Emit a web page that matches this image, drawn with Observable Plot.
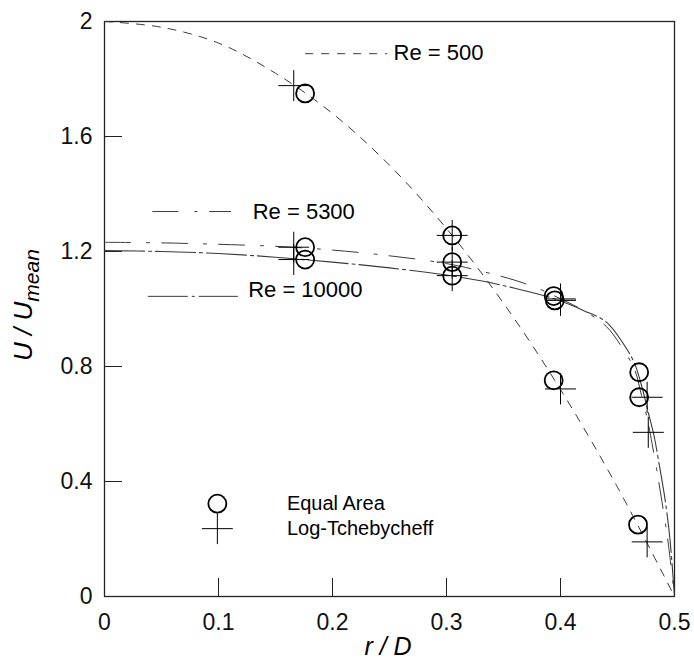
<!DOCTYPE html>
<html>
<head>
<meta charset="utf-8">
<script src="https://cdn.jsdelivr.net/npm/d3@7"></script>
<script src="https://cdn.jsdelivr.net/npm/@observablehq/plot@0.6"></script>
<style>
  html, body { margin: 0; padding: 0; background: #fff; }
  #chart svg { display: block; }
</style>
</head>
<body>
<div id="chart"></div>
<script>
// Tick values
const xTicks = [0, 0.1, 0.2, 0.3, 0.4, 0.5];
const yTicks = [0, 0.4, 0.8, 1.2, 1.6, 2];

// Profile curves
const curve500 = [
  {x: 0, y: 2.0}, {x: 0.05, y: 1.98}, {x: 0.1, y: 1.925}, {x: 0.15, y: 1.82},
  {x: 0.2, y: 1.68}, {x: 0.25, y: 1.50}, {x: 0.3, y: 1.28}, {x: 0.35, y: 1.02},
  {x: 0.4, y: 0.72}, {x: 0.45, y: 0.38}, {x: 0.5, y: 0}
];
const curve5300 = [
  {x: 0, y: 1.232}, {x: 0.05, y: 1.23}, {x: 0.1, y: 1.225}, {x: 0.15, y: 1.218},
  {x: 0.2, y: 1.205}, {x: 0.25, y: 1.185}, {x: 0.3, y: 1.158}, {x: 0.33, y: 1.132},
  {x: 0.36, y: 1.10}, {x: 0.38, y: 1.072}, {x: 0.395, y: 1.045}, {x: 0.42, y: 0.995},
  {x: 0.44, y: 0.94}, {x: 0.455, y: 0.86}, {x: 0.465, y: 0.79}, {x: 0.471, y: 0.70},
  {x: 0.476, y: 0.62}, {x: 0.479, y: 0.56}, {x: 0.484, y: 0.45}, {x: 0.489, y: 0.33},
  {x: 0.494, y: 0.2}, {x: 0.5, y: 0}
];
const curve10000 = [
  {x: 0, y: 1.203}, {x: 0.05, y: 1.2}, {x: 0.1, y: 1.193}, {x: 0.15, y: 1.18},
  {x: 0.2, y: 1.163}, {x: 0.25, y: 1.143}, {x: 0.3, y: 1.118}, {x: 0.33, y: 1.098},
  {x: 0.36, y: 1.072}, {x: 0.395, y: 1.035}, {x: 0.42, y: 0.995}, {x: 0.44, y: 0.955},
  {x: 0.455, y: 0.88}, {x: 0.465, y: 0.81}, {x: 0.472, y: 0.72}, {x: 0.477, y: 0.64},
  {x: 0.482, y: 0.56}, {x: 0.487, y: 0.45}, {x: 0.492, y: 0.33}, {x: 0.496, y: 0.2},
  {x: 0.5, y: 0}
];

// Measured points
const equalArea = [
  {re: "500", x: 0.176, y: 1.75}, {re: "500", x: 0.305, y: 1.256},
  {re: "500", x: 0.394, y: 0.752}, {re: "500", x: 0.468, y: 0.25},
  {re: "5300", x: 0.176, y: 1.215}, {re: "5300", x: 0.305, y: 1.163},
  {re: "5300", x: 0.394, y: 1.045}, {re: "5300", x: 0.469, y: 0.693},
  {re: "10000", x: 0.176, y: 1.172}, {re: "10000", x: 0.305, y: 1.116},
  {re: "10000", x: 0.395, y: 1.03}, {re: "10000", x: 0.469, y: 0.78}
];
const logTcheb = [
  {re: "500", x: 0.166, y: 1.777}, {re: "500", x: 0.305, y: 1.256},
  {re: "500", x: 0.40, y: 0.722}, {re: "500", x: 0.476, y: 0.19},
  {re: "5300", x: 0.166, y: 1.215}, {re: "5300", x: 0.305, y: 1.163},
  {re: "5300", x: 0.40, y: 1.035}, {re: "5300", x: 0.477, y: 0.571},
  {re: "10000", x: 0.166, y: 1.172}, {re: "10000", x: 0.305, y: 1.116},
  {re: "10000", x: 0.40, y: 1.03}, {re: "10000", x: 0.476, y: 0.693}
];

// Curve labels (key lines + text), in data units
const reLabels = [
  {label: "Re = 500", tx: 0.2535, ty: 1.89, x1: 0.176, x2: 0.248, ly: 1.888, dash: "8,8"},
  {label: "Re = 5300", tx: 0.130, ty: 1.336, x1: 0.042, x2: 0.111, ly: 1.339, dash: "26,16,3,12"},
  {label: "Re = 10000", tx: 0.126, ty: 1.066, x1: 0.038, x2: 0.117, ly: 1.044, dash: "40,4,3,4"}
];

// Marker legend
const markerLegend = [
  {label: "Equal Area", x: 0.099, y: 0.323, tx: 0.160, symbol: "circle"},
  {label: "Log-Tchebycheff", x: 0.099, y: 0.236, tx: 0.160, symbol: "plus"}
];

const lineColor = "#3a3a3a";
const font = "'Liberation Sans', Arial, Helvetica, sans-serif";

const chart = Plot.plot({
  width: 694,
  height: 662,
  marginLeft: 104,
  marginRight: 20,
  marginTop: 21,
  marginBottom: 66,
  x: {domain: [0, 0.5]},
  y: {domain: [0, 2]},
  style: {fontFamily: font, fontSize: "23px", background: "#fff", color: "#111"},
  marks: [
    // inward ticks
    Plot.tickX(xTicks, {x: d => d, insetTop: 557, stroke: "#222", strokeWidth: 1}),
    Plot.tickY(yTicks, {y: d => d, insetRight: 552, stroke: "#222", strokeWidth: 1}),
    Plot.axisX({ticks: xTicks, tickSize: 0, tickPadding: 17, tickFormat: d => String(d), label: null, fontSize: 23}),
    Plot.axisY({ticks: yTicks, tickSize: 0, tickPadding: 12, tickFormat: d => String(d), label: null, fontSize: 23}),
    Plot.frame({stroke: "#222", strokeWidth: 1.3}),
    // curves
    Plot.line(curve500, {x: "x", y: "y", stroke: lineColor, strokeWidth: 1, strokeDasharray: "8,8", curve: "catmull-rom"}),
    Plot.line(curve5300, {x: "x", y: "y", stroke: lineColor, strokeWidth: 1, strokeDasharray: "26,16,3,12", curve: "catmull-rom"}),
    Plot.line(curve10000, {x: "x", y: "y", stroke: lineColor, strokeWidth: 1.1, strokeDasharray: "40,4,3,4", curve: "catmull-rom"}),
    // points
    Plot.dot(equalArea, {x: "x", y: "y", r: 9, stroke: "#000", strokeWidth: 1.8, fill: "none"}),
    Plot.dot(logTcheb, {x: "x", y: "y", r: 10, symbol: "plus", stroke: "#000", strokeWidth: 1, fill: "none"}),
    // Re labels: key lines (one mark per dash style) and text
    ...reLabels.map(d => Plot.link([d], {x1: "x1", x2: "x2", y1: "ly", y2: "ly", stroke: lineColor, strokeWidth: 1, strokeDasharray: d.dash})),
    Plot.text(reLabels, {x: "tx", y: "ty", text: "label", textAnchor: "start", fontSize: 22, fill: "#000"}),
    // marker legend
    Plot.dot(markerLegend.filter(d => d.symbol === "circle"), {x: "x", y: "y", r: 9, stroke: "#000", strokeWidth: 1.8, fill: "none"}),
    Plot.dot(markerLegend.filter(d => d.symbol === "plus"), {x: "x", y: "y", r: 10, symbol: "plus", stroke: "#000", strokeWidth: 1, fill: "none"}),
    Plot.text(markerLegend, {x: "tx", y: "y", text: "label", textAnchor: "start", fontSize: 20, fontFamily: "'Liberation Sans Narrow', 'Liberation Sans', Arial, sans-serif", fill: "#000"})
  ]
});

document.getElementById("chart").appendChild(chart);

// Axis titles
const svg = d3.select(chart);
const yTitle = svg.append("text")
  .attr("transform", "translate(32,305) rotate(-90)")
  .attr("text-anchor", "middle")
  .attr("font-family", font)
  .attr("font-style", "italic")
  .attr("font-size", 26)
  .attr("fill", "#000");
yTitle.append("tspan").text("U / U");
yTitle.append("tspan").attr("dy", 7).attr("font-size", 21).text("mean");

svg.append("text")
  .attr("x", 388)
  .attr("y", 655)
  .attr("text-anchor", "middle")
  .attr("font-family", font)
  .attr("font-style", "italic")
  .attr("font-size", 25)
  .attr("fill", "#000")
  .text("r / D");
</script>
</body>
</html>
